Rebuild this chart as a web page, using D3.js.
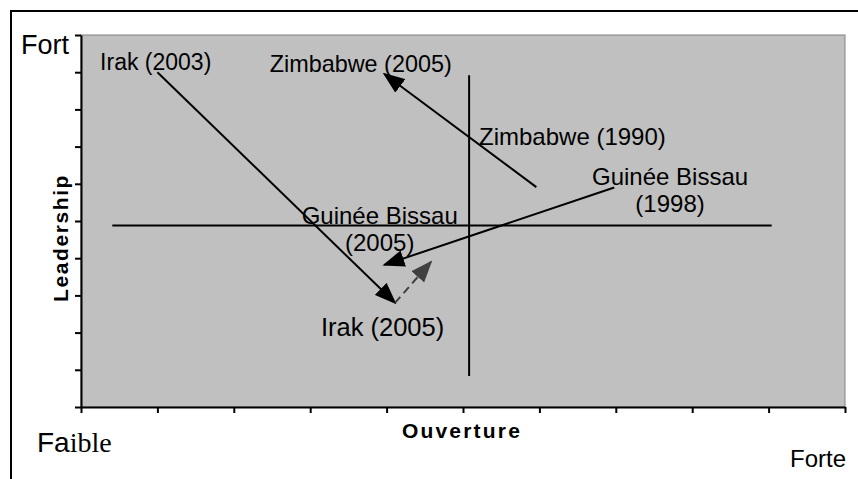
<!DOCTYPE html>
<meta charset="utf-8">
<style>
body { margin: 0; background: #fff; }
text { font-family: "Liberation Sans", Arial, sans-serif; fill: #000; }
</style>
<body>
<script src="https://cdn.jsdelivr.net/npm/d3@7"></script>
<script>

var width = 858,
    height = 479;

// axis ticks (no labels, just marks 0..10)
var xTicks = [0, 1, 2, 3, 4, 5, 6, 7, 8, 9, 10];
var yTicks = [0, 1, 2, 3, 4, 5, 6, 7, 8, 9, 10];

// quadrant lines
var hLine = [[0.41, 4.88], [9.04, 4.88]];
var vLine = [[5.08, 0.83], [5.08, 8.92]];

// trajectories: from -> to
var countries = ["Irak", "Zimbabwe", "Guinée Bissau"];
var fromPts = [[1.0, 9.0], [5.96, 5.91], [6.98, 5.90]];
var toPts = [[4.11, 2.80], [3.97, 8.95], [3.97, 3.82]];

// Irak projected move (dashed)
var dashFrom = [4.11, 2.80];
var dashTo = [4.58, 3.90];

// point labels (text lines) and where they sit, in data units
var labelText = [
  ["Irak (2003)"],
  ["Zimbabwe (2005)"],
  ["Zimbabwe (1990)"],
  ["Guinée Bissau", "(1998)"],
  ["Guinée Bissau", "(2005)"],
  ["Irak (2005)"]
];
var labelAt = [[0.25, 9.05], [2.47, 9.0], [5.21, 7.04], [7.71, 5.97], [3.91, 4.92], [3.14, 1.9]];

var margin = {left: 81, top: 35, right: 13, bottom: 72};

var svg = d3.select("body").append("svg")
    .attr("width", width)
    .attr("height", height);

// outer frame
svg.append("rect")
    .attr("x", 11).attr("y", 11)
    .attr("width", width + 20).attr("height", height + 20)
    .attr("fill", "none")
    .attr("stroke", "#000")
    .attr("stroke-width", 2);

var x = d3.scaleLinear().domain([0, 10]).range([margin.left, width - margin.right]);
var y = d3.scaleLinear().domain([0, 10]).range([height - margin.bottom, margin.top]);

// plot area
svg.append("rect")
    .attr("x", x(0)).attr("y", y(10))
    .attr("width", x(10) - x(0)).attr("height", y(0) - y(10))
    .attr("fill", "#c0c0c0")
    .attr("stroke", "#808080");

var defs = svg.append("defs");
function marker(id, color) {
  defs.append("marker")
      .attr("id", id)
      .attr("viewBox", "0 -9 22 18")
      .attr("refX", 20).attr("refY", 0)
      .attr("markerUnits", "userSpaceOnUse")
      .attr("markerWidth", 22).attr("markerHeight", 18)
      .attr("orient", "auto")
    .append("path")
      .attr("d", "M0,-8.5L22,0L0,8.5Z")
      .attr("fill", color);
}
marker("head", "#000");
marker("headgrey", "#404040");

var line = d3.line().x(function(d) { return x(d[0]); }).y(function(d) { return y(d[1]); });

svg.append("path").attr("d", line(hLine)).attr("stroke", "#000").attr("stroke-width", 2).attr("fill", "none");
svg.append("path").attr("d", line(vLine)).attr("stroke", "#000").attr("stroke-width", 2).attr("fill", "none");

svg.selectAll(".traj")
    .data(countries)
  .enter().append("path")
    .attr("class", "traj")
    .attr("d", function(d, i) { return line([fromPts[i], toPts[i]]); })
    .attr("stroke", "#000")
    .attr("stroke-width", 2)
    .attr("fill", "none")
    .attr("marker-end", "url(#head)");

svg.append("path")
    .attr("d", line([dashFrom, dashTo]))
    .attr("stroke", "#404040")
    .attr("stroke-width", 2)
    .attr("stroke-dasharray", "8,5")
    .attr("fill", "none")
    .attr("marker-end", "url(#headgrey)");

// axes
svg.append("g")
    .attr("transform", "translate(0," + y(0) + ")")
    .call(d3.axisBottom(x).tickValues(xTicks).tickSize(6).tickFormat("").tickSizeOuter(0))
    .call(function(g) { g.selectAll("line,path").attr("stroke", "#000").attr("stroke-width", 2); });

svg.append("g")
    .attr("transform", "translate(" + x(0) + ",0)")
    .call(d3.axisLeft(y).tickValues(yTicks).tickSize(6).tickFormat("").tickSizeOuter(0))
    .call(function(g) { g.selectAll("line,path").attr("stroke", "#000").attr("stroke-width", 2); });

// point labels
var labelSize = [23, 23.4, 24, 24, 24, 25.5];
var labelAnchor = ["start", "start", "start", "middle", "middle", "start"];
labelText.forEach(function(lines, i) {
  var t = svg.append("text")
      .attr("x", x(labelAt[i][0]))
      .attr("y", y(labelAt[i][1]))
      .attr("text-anchor", labelAnchor[i])
      .style("font-size", labelSize[i] + "px");
  lines.forEach(function(s, j) {
    t.append("tspan")
        .attr("x", x(labelAt[i][0]))
        .attr("dy", j ? "1.12em" : 0)
        .text(s);
  });
});

// axis titles
svg.append("text")
    .attr("x", 462).attr("y", 438)
    .attr("text-anchor", "middle")
    .style("font-size", "21px").style("font-weight", "bold").style("letter-spacing", "2.2px")
    .text("Ouverture");

svg.append("text")
    .attr("transform", "translate(68,238) rotate(-90)")
    .attr("text-anchor", "middle")
    .style("font-size", "21px").style("font-weight", "bold").style("letter-spacing", "1.6px")
    .text("Leadership");

svg.append("text")
    .attr("x", 21).attr("y", 54)
    .style("font-size", "27px")
    .text("Fort");

var faible = svg.append("text")
    .attr("x", 37).attr("y", 452)
    .style("font-size", "28px");
faible.append("tspan").text("Fa");
faible.append("tspan").style("font-family", "'Liberation Serif', serif").text("ible");

svg.append("text")
    .attr("x", 790).attr("y", 467)
    .style("font-size", "24px")
    .text("Forte");

</script>
